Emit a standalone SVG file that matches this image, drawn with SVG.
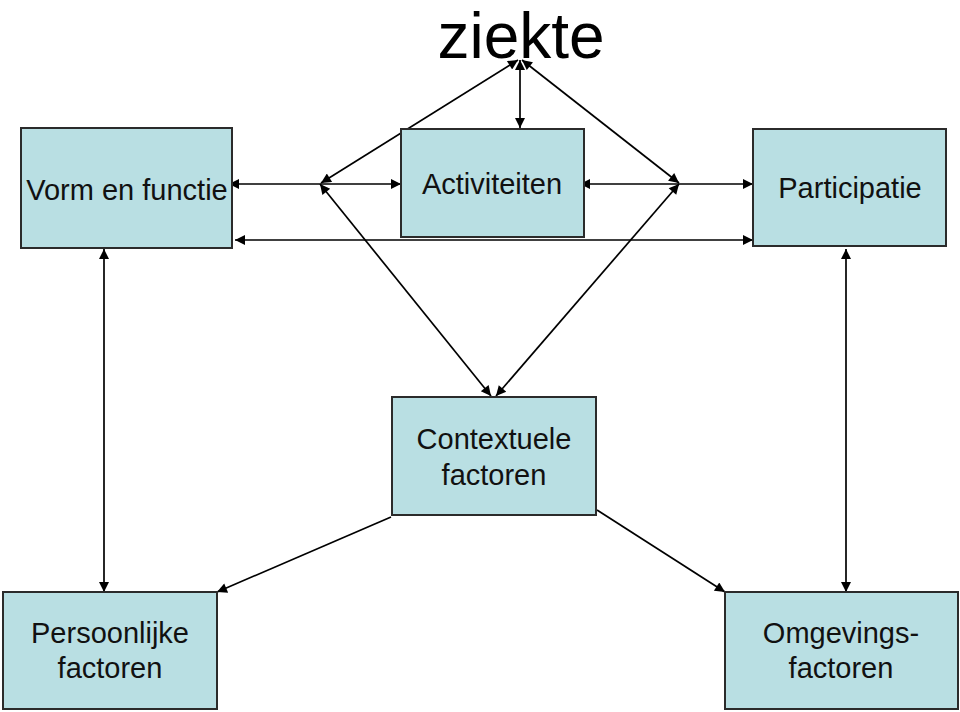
<svg xmlns="http://www.w3.org/2000/svg" width="960" height="712" viewBox="0 0 960 712">
<style>
.box{fill:#b9dfe3;stroke:#2b2b2b;stroke-width:2}
.lbl{font-family:"Liberation Sans",Arial,sans-serif;font-size:29px;fill:#111;text-anchor:middle}
.ln{stroke:#000;stroke-width:1.7;fill:none}
</style>
<defs>
<marker id="ahL" viewBox="0 0 10 10" refX="10" refY="5" markerWidth="13" markerHeight="10" markerUnits="userSpaceOnUse" orient="auto-start-reverse">
<path d="M0,0 L10,5 L0,10 z" fill="#000"/>
</marker>
</defs>
<rect width="960" height="712" fill="#fff"/>
<g id="title"><text x="521" y="58" font-family="Liberation Sans,Arial,sans-serif" font-size="64" text-anchor="middle" fill="#000">ziekte</text></g>
<g id="connectors">
<line class="ln" x1="518" y1="60" x2="321" y2="183" marker-start="url(#ahL)" marker-end="url(#ahL)"/>
<line class="ln" x1="522" y1="60" x2="679" y2="183" marker-start="url(#ahL)" marker-end="url(#ahL)"/>
<line class="ln" x1="520" y1="60" x2="520" y2="128" marker-start="url(#ahL)" marker-end="url(#ahL)"/>
<line class="ln" x1="229" y1="184" x2="401" y2="184" marker-start="url(#ahL)" marker-end="url(#ahL)"/>
<line class="ln" x1="580" y1="184" x2="753" y2="184" marker-start="url(#ahL)" marker-end="url(#ahL)"/>
<line class="ln" x1="320" y1="184" x2="491" y2="396" marker-start="url(#ahL)" marker-end="url(#ahL)"/>
<line class="ln" x1="679" y1="184" x2="496" y2="396" marker-start="url(#ahL)" marker-end="url(#ahL)"/>
<line class="ln" x1="235" y1="240" x2="753" y2="240" marker-start="url(#ahL)" marker-end="url(#ahL)"/>
<line class="ln" x1="104" y1="249" x2="104" y2="592" marker-start="url(#ahL)" marker-end="url(#ahL)"/>
<line class="ln" x1="846" y1="249" x2="846" y2="592" marker-start="url(#ahL)" marker-end="url(#ahL)"/>
<line class="ln" x1="391" y1="517" x2="217" y2="592" marker-end="url(#ahL)"/>
<line class="ln" x1="597" y1="510" x2="725" y2="592" marker-end="url(#ahL)"/>
</g>
<g id="vorm"><rect class="box" x="21" y="128" width="211" height="120"/><text class="lbl" x="127" y="200">Vorm en functie</text></g>
<g id="activiteiten"><rect class="box" x="401" y="129" width="183" height="108"/><text class="lbl" x="492" y="194">Activiteiten</text></g>
<g id="participatie"><rect class="box" x="753" y="129" width="193" height="117"/><text class="lbl" x="850" y="198">Participatie</text></g>
<g id="contextuele"><rect class="box" x="392" y="397" width="204" height="118"/><text class="lbl" x="494" y="449">Contextuele</text><text class="lbl" x="494" y="485">factoren</text></g>
<g id="persoonlijke"><rect class="box" x="3" y="592" width="214" height="117"/><text class="lbl" x="110" y="643">Persoonlijke</text><text class="lbl" x="110" y="678">factoren</text></g>
<g id="omgevings"><rect class="box" x="725" y="592" width="233" height="117"/><text class="lbl" x="841" y="643">Omgevings-</text><text class="lbl" x="841" y="678">factoren</text></g>
</svg>
